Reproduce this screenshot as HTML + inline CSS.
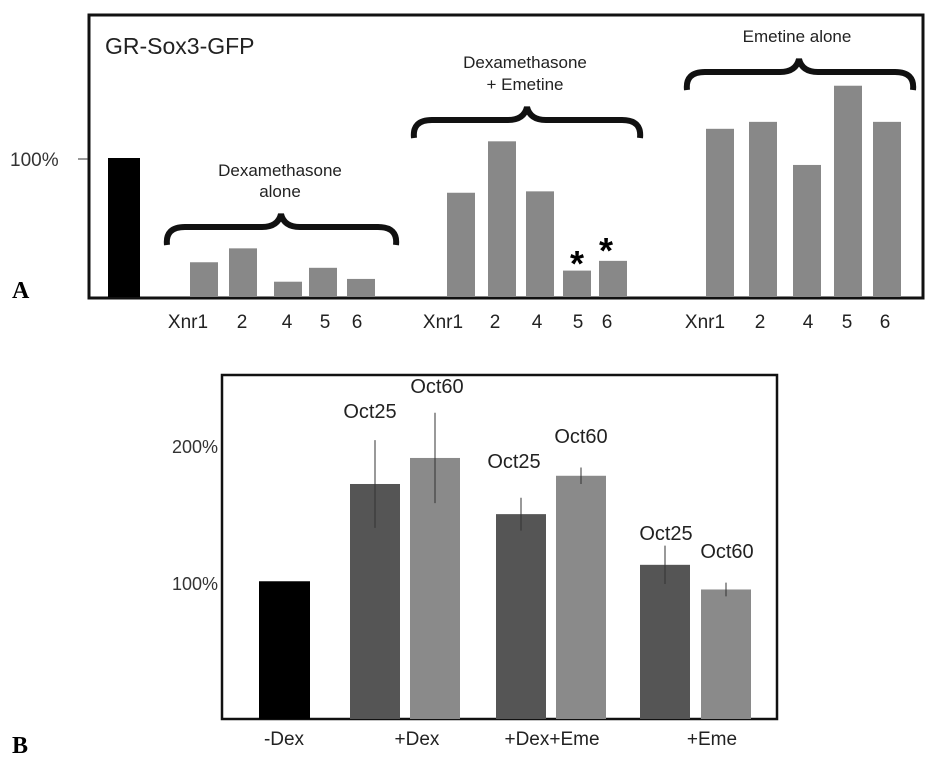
<!DOCTYPE html>
<html><head><meta charset="utf-8"><style>
body{margin:0;background:#fff;width:931px;height:759px;overflow:hidden}
svg{display:block;font-family:"Liberation Sans",Arial,sans-serif}
</style></head><body>
<svg id="chart" width="931" height="759" viewBox="0 0 931 759">
<g id="pa">
<rect x="89" y="15" width="834" height="283" fill="none" stroke="#111" stroke-width="3"/>
<text x="105" y="54" font-size="23" fill="#222">GR-Sox3-GFP</text>
<text x="10" y="166" font-size="19" fill="#333">100%</text>
<line x1="78" y1="159" x2="88" y2="159" stroke="#333"/>
<text x="12" y="298" font-size="24" font-weight="bold" font-family="Liberation Serif,serif">A</text>
<text x="280" y="176" font-size="17" text-anchor="middle" fill="#222">Dexamethasone</text>
<text x="280" y="197" font-size="17" text-anchor="middle" fill="#222">alone</text>
<text x="525" y="68" font-size="17" text-anchor="middle" fill="#222">Dexamethasone</text>
<text x="525" y="90" font-size="17" text-anchor="middle" fill="#222">+ Emetine</text>
<text x="797" y="42" font-size="17" text-anchor="middle" fill="#222">Emetine alone</text>
<path d="M167,245 Q165,227 185,227 L262,227 Q278,227 281,214 Q284,227 300,227 L378,227 Q398,227 396,245" fill="none" stroke="#111" stroke-width="6"/>
<path d="M414,138 Q412,120 432,120 L508,120 Q524,120 527,107 Q530,120 546,120 L622,120 Q642,120 640,138" fill="none" stroke="#111" stroke-width="6"/>
<path d="M687,90 Q685,72 705,72 L780,72 Q796,72 799,59 Q802,72 818,72 L895,72 Q915,72 913,90" fill="none" stroke="#111" stroke-width="6"/>
<text x="577" y="276" font-size="36" font-weight="bold" text-anchor="middle">*</text>
<text x="606" y="263" font-size="36" font-weight="bold" text-anchor="middle">*</text>
</g>
<g id="pb">
<rect x="222" y="375" width="555" height="344" fill="none" stroke="#111" stroke-width="2.5"/>
<text x="12" y="753" font-size="24" font-weight="bold" font-family="Liberation Serif,serif">B</text>
</g>
</svg>
<script>
const NS='http://www.w3.org/2000/svg';
// Panel A data
const aLabels=['Xnr1','2','4','5','6','Xnr1','2','4','5','6','Xnr1','2','4','5','6'];
const aValues=[25,35,11,21,13,75,112,76,19,26,121,126,95,152,126];
const aControl=[100];
// Panel B data
const bGroups=['-Dex','+Dex','+Dex+Eme','+Eme'];
const bControl=[102];
const bOct25=[173,151,114];
const bOct60=[192,179,96];
const bErr25=[32,12,14];
const bErr60=[33,6,5];
const bTicks=[100,200];
const bTickLabels=['100%','200%'];

const pa=document.getElementById('pa'), pb=document.getElementById('pb');
function mk(parent,tag,attrs){const e=document.createElementNS(NS,tag);for(const k in attrs)e.setAttribute(k,attrs[k]);parent.appendChild(e);return e;}
const yA=v=>297-v*1.39;
const aX=[190,229,274,309,347,447,488,526,563,599,706,749,793,834,873];
const aW=28;
const aLblX=[188,242,287,325,357,443,495,537,578,607,705,760,808,847,885];
{const r=mk(pa,'rect',{x:108,y:yA(aControl[0]),width:32,height:297-yA(aControl[0]),fill:'#000'});

}
aValues.forEach((v,i)=>{
 const r=mk(pa,'rect',{x:aX[i],y:yA(v),width:aW,height:297-yA(v),fill:'#888'});
 
 
 const t=mk(pa,'text',{x:aLblX[i],y:328,'font-size':19,'text-anchor':'middle',fill:'#222'});
 t.textContent=aLabels[i];
 
 
});
const yB=v=>721-v*1.37;
bTicks.forEach((v,i)=>{
 const t=mk(pb,'text',{x:218,y:yB(v)+6,'font-size':18,'text-anchor':'end',fill:'#333'});
 t.textContent=bTickLabels[i];
 
 
});
{const r=mk(pb,'rect',{x:259,y:yB(bControl[0]),width:51,height:719-yB(bControl[0]),fill:'#000'});

}
const x25=[350,496,640], x60=[410,556,701], bw=50;
const lab25=[[370,418],[514,468],[666,540]], lab60=[[437,393],[581,443],[727,558]];
function bar(x,v,e,col,name,lab,txt){
 const r=mk(pb,'rect',{x:x,y:yB(v),width:bw,height:719-yB(v),fill:col});
 
 
 const l=mk(pb,'line',{x1:x+bw/2,x2:x+bw/2,y1:yB(v+e),y2:yB(v-e),stroke:'#333','stroke-width':1});
 
 
 const t=mk(pb,'text',{x:lab[0],y:lab[1],'font-size':20,'text-anchor':'middle',fill:'#222'});
 t.textContent=txt;
 
 
}
bOct25.forEach((v,i)=>bar(x25[i],v,bErr25[i],'#555','bar-oct25-'+i,lab25[i],'Oct25'));
bOct60.forEach((v,i)=>bar(x60[i],v,bErr60[i],'#8a8a8a','bar-oct60-'+i,lab60[i],'Oct60'));
const gX=[284,417,552,712];
bGroups.forEach((g,i)=>{
 const t=mk(pb,'text',{x:gX[i],y:745,'font-size':19,'text-anchor':'middle',fill:'#222'});
 t.textContent=g;
 
 
});
</script>
</body></html>
